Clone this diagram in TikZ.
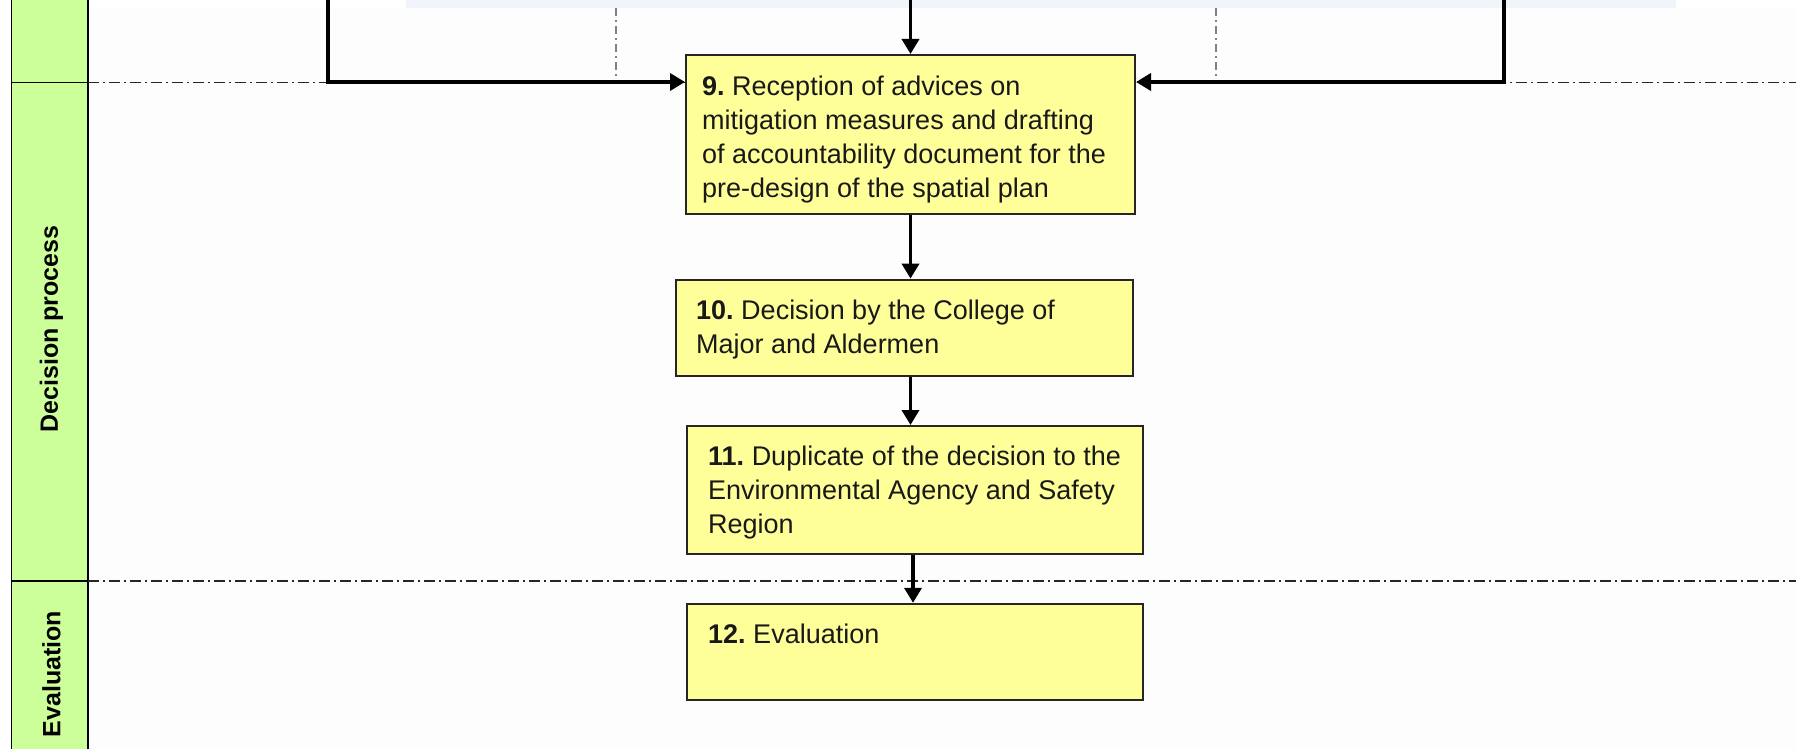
\documentclass[tikz,border=0pt]{standalone}
\usepackage{fontspec}
\setmainfont{Liberation Sans}
\usetikzlibrary{arrows.meta,calc}
\definecolor{boxfill}{HTML}{FFFF99}
\definecolor{lanefill}{HTML}{CCFF99}
\definecolor{bandfill}{HTML}{F1F5FB}
\definecolor{bgfill}{HTML}{FDFDFD}
\frenchspacing
\begin{document}
\begin{tikzpicture}[x=1pt,y=-1pt,
  stepbox/.style={draw=black!85, line width=2pt, fill=boxfill, rectangle, inner sep=0pt},
  steptext/.style={anchor=north west, inner sep=0pt, align=left, text=black!90, font=\fontsize{27}{34}\selectfont},
  flow/.style={line width=3.6pt, -{Triangle[length=15pt,width=17pt]}},
  laneline/.style={line width=1.8pt, dash pattern=on 11pt off 4pt on 2pt off 4pt, black!85},
  guide/.style={line width=1.5pt, dash pattern=on 8pt off 4pt on 2pt off 4pt, black!50},
  lanelabel/.style={rotate=90, inner sep=0pt, font=\fontsize{25}{30}\selectfont\bfseries}
]
\useasboundingbox (0,0) rectangle (1796,749);
\fill[white] (0,0) rectangle (1796,749);
\fill[bgfill] (88,8) rectangle (1796,749);
\fill[bandfill] (406,0) rectangle (1676,8);
% lane header column
\draw[fill=lanefill, line width=1.8pt] (11.5,-5) rectangle (88,752);
\draw[line width=1.8pt] (11.5,82.5) -- (88,82.5);
\draw[line width=1.8pt] (11.5,580.7) -- (88,580.7);
\node[lanelabel] (lab1) at (51.5,329) {Decision process};
\node[lanelabel] (lab2) at (51.5,674) {Evaluation};
% lane separators
\draw[laneline] (88,82.5) -- (1796,82.5);
\draw[laneline] (88,580.7) -- (1796,580.7);
% thin guides in the upper lane
\draw[guide] (616,8) -- (616,82.5);
\draw[guide] (1216,8) -- (1216,82.5);
% boxes
\node[stepbox, minimum width=449pt, minimum height=159pt] (b9) at (910.5,134.5) {};
\node[stepbox, minimum width=457pt, minimum height=96pt] (b10) at (904.5,327.6) {};
\node[stepbox, minimum width=456pt, minimum height=128pt] (b11) at (915,490) {};
\node[stepbox, minimum width=456pt, minimum height=96pt] (b12) at (915,651.8) {};
\node[steptext] (t9) at ([xshift=17pt,yshift=-21.5pt]b9.north west)
  {\textbf{9.} Reception of advices on\\mitigation measures and drafting\\of accountability document for the\\pre-design of the spatial plan};
\node[steptext] (t10) at ([xshift=21pt,yshift=-21.5pt]b10.north west)
  {\textbf{10.} Decision by the College of\\Major and Aldermen};
\node[steptext] (t11) at ([xshift=22pt,yshift=-21pt]b11.north west)
  {\textbf{11.} Duplicate of the decision to the\\Environmental Agency and Safety\\Region};
\node[steptext] (t12) at ([xshift=22pt,yshift=-21pt]b12.north west)
  {\textbf{12.} Evaluation};
% connectors
\coordinate (tl) at (328,0);
\coordinate (tr) at (1504,0);
\coordinate (tc) at (910.5,0);
\draw[flow] (tl) |- ([yshift=-28pt]b9.north west);
\draw[flow] (tr) |- ([yshift=-28pt]b9.north east);
\draw[flow] (tc) -- (b9.north);
\draw[flow] (b9.south) -- (b9.south |- b10.north);
\draw[flow] (b9.south |- b10.south) -- (b9.south |- b11.north);
\coordinate (c11) at (913,0);
\draw[flow] (c11 |- b11.south) -- (c11 |- b12.north);
\end{tikzpicture}
\end{document}
